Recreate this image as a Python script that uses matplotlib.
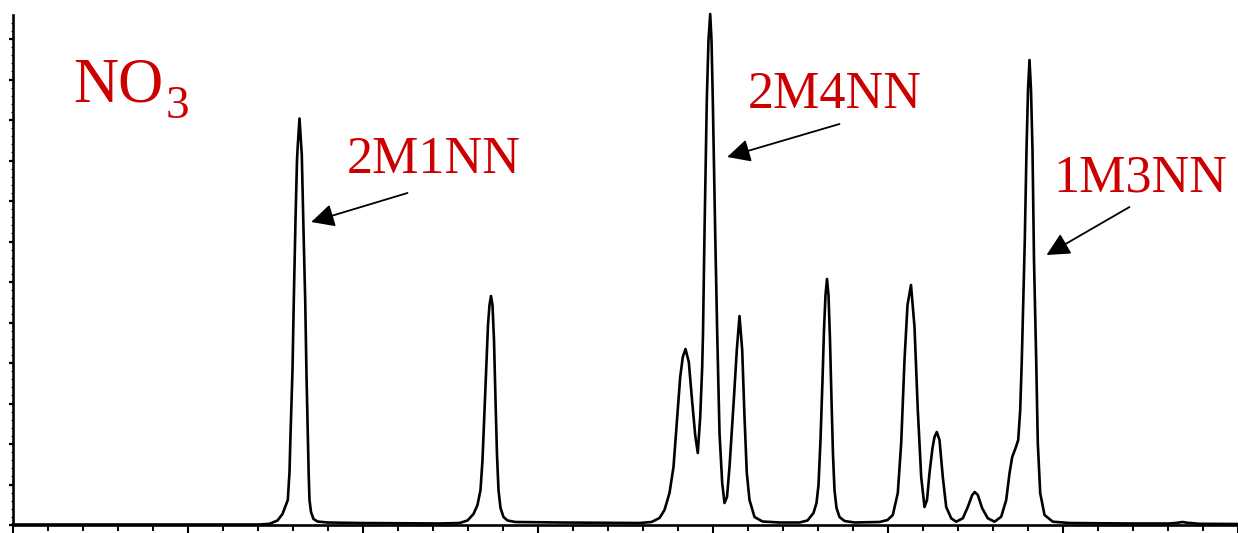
import matplotlib
matplotlib.use('Agg')
import matplotlib.pyplot as plt
from matplotlib.ticker import MultipleLocator
import numpy as np

plt.rcParams['font.family'] = ['Liberation Serif', 'DejaVu Serif']

# ---- chromatogram trace (arbitrary units: x = retention axis, y = signal) ----
seg1_x = [0, 247, 257, 265, 270, 273, 275.3, 277, 278, 280, 281.3, 283, 284.5, 285.3, 287,
          288, 289.3, 291, 292.7, 294, 295.3, 296.2, 297, 298.5, 301, 305, 315, 347, 427]
seg1_y = [0.5, 0.5, 1.2, 4.5, 11, 19, 25, 53, 90, 155, 225, 305, 365, 380, 406.5,
          390, 370, 295, 225, 150, 92, 50, 25, 13, 6, 3.5, 2.5, 2, 1.5]

seg2_x = [447, 455, 461, 465, 468, 470, 472, 474, 475.5, 477, 478.5, 480, 481.5, 483,
          484.5, 486, 488, 491, 495, 503, 547, 627]
seg2_y = [2, 4.5, 11, 20, 35, 65, 115, 165, 200, 220, 229, 220, 185, 125,
          70, 35, 17, 8, 4.5, 3, 2.5, 2]

seg3_x = [639, 647, 652, 657, 661, 664.3, 667.7, 670.3, 673, 676.3, 679.7, 682.7, 685.3,
          687.7, 689.7, 690.5, 692, 694.3, 696, 697.7, 699, 700.3, 702.7, 704.7, 707,
          709.7, 712, 714.5, 717, 721.3, 724.3, 727, 729.7, 732, 734.3, 737, 742, 750, 767]
seg3_y = [3, 7, 15, 32, 58, 102, 148, 168, 176, 163, 123, 90, 72,
          108, 158, 192, 292, 425, 485, 511, 485, 425, 292, 192, 92,
          42, 22, 28, 58, 125, 175, 209, 175, 108, 52, 25, 8, 3.5, 2.5]

seg4_x = [787, 795, 801, 804, 806, 808, 810, 811.5, 813, 814.5, 816, 817.5, 819, 820.5,
          822, 824, 827, 832, 842]
seg4_y = [2.5, 4.5, 12, 22, 40, 85, 145, 195, 230, 246, 230, 185, 125, 70,
          35, 17, 8, 4, 2.5]

seg5_x = [867, 875, 880.3, 885.3, 888.7, 892, 895, 898.5, 902, 905.3, 908.7, 912, 914.5,
          917, 920, 922, 924.3, 927, 930.3, 933.7, 938.7, 943.7, 950.3, 955.3, 959.7,
          962.3, 965.3, 969.7, 975.3, 982, 988.7, 993.7, 997, 999.7, 1003, 1005.7,
          1007.7, 1009.3, 1011, 1012.3, 1014, 1015.5, 1017, 1018.5, 1020, 1021.5,
          1023.7, 1025.3, 1027.7, 1032, 1040.3, 1057]
seg5_y = [3, 5, 10, 32, 82, 165, 220, 240, 198, 115, 48, 18, 25,
          52, 77, 88, 93, 85, 48, 18, 6.7, 3.3, 6.7, 18, 30,
          33, 30, 16.7, 6.7, 3.3, 8.3, 25, 51.7, 68, 76.7, 85,
          115, 165, 232, 285, 375, 435, 465, 435, 375, 265,
          165, 82, 32, 10, 3.3, 2]

seg6_x = [1117, 1157, 1165, 1170, 1175, 1187, 1225]
seg6_y = [1.5, 1.5, 2.2, 3, 2.2, 1.2, 1]

trace_x = np.concatenate([seg1_x, seg2_x, seg3_x, seg4_x, seg5_x, seg6_x])
trace_y = np.concatenate([seg1_y, seg2_y, seg3_y, seg4_y, seg5_y, seg6_y])

RED = '#cc0000'

fig = plt.figure(figsize=(12.38, 5.33), dpi=100)
ax = fig.add_axes([12.5 / 1238, 8 / 533, 1225 / 1238, 510 / 533])

ax.plot(trace_x, trace_y, color='black', lw=1.9, clip_on=False,
        solid_joinstyle='round', solid_capstyle='round')

ax.set_xlim(0, 1225)
ax.set_ylim(0, 510)
for s in ['top', 'right']:
    ax.spines[s].set_visible(False)
for s in ['left', 'bottom']:
    ax.spines[s].set_linewidth(1.9)

ax.xaxis.set_major_locator(MultipleLocator(175))
ax.xaxis.set_minor_locator(MultipleLocator(35))
ax.yaxis.set_major_locator(MultipleLocator(40.5))
ax.yaxis.set_minor_locator(MultipleLocator(8.1))
ax.tick_params(labelbottom=False, labelleft=False)
ax.tick_params(axis='x', which='major', direction='out', length=6, width=1.5)
ax.tick_params(axis='x', which='minor', direction='out', length=4, width=1.4)
ax.tick_params(axis='y', which='major', direction='out', length=3, width=1.6)
ax.tick_params(axis='y', which='minor', direction='out', length=1.5, width=0.8)

# compound label
ax.text(61, 423.3, 'NO', fontsize=45, color=RED, ha='left', va='baseline')
ax.text(153, 407, '3', fontsize=34, color=RED, ha='left', va='baseline')

arrow_kw = dict(arrowstyle='-|>,head_length=14,head_width=7', mutation_scale=1,
                color='black', lw=1.3, shrinkA=0, shrinkB=0)

ax.text(334.5, 351.7, '2M1NN', fontsize=37.5, color=RED, ha='left', va='baseline')
ax.annotate('', xy=(298.7, 303), xytext=(395, 332), arrowprops=arrow_kw)

ax.text(735, 417.5, '2M4NN', fontsize=37.5, color=RED, ha='left', va='baseline')
ax.annotate('', xy=(714.7, 368), xytext=(827, 401), arrowprops=arrow_kw)

ax.text(1041, 333, '1M3NN', fontsize=37.5, color=RED, ha='left', va='baseline')
ax.annotate('', xy=(1034, 270), xytext=(1117, 318), arrowprops=arrow_kw)

fig.savefig('out.png', dpi=100)
